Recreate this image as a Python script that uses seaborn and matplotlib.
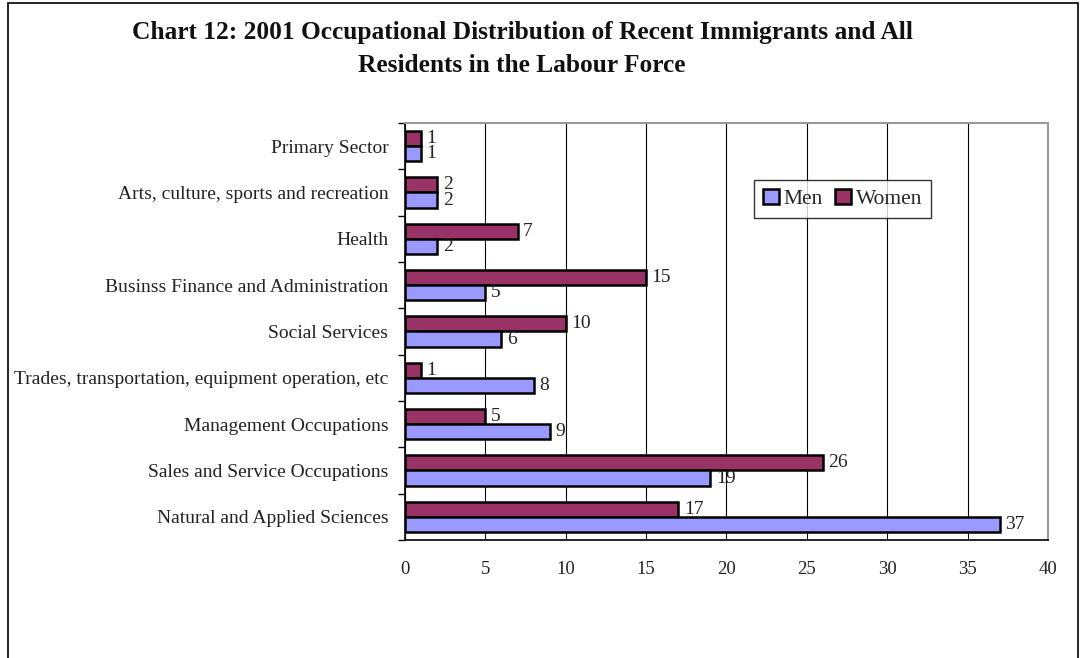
import matplotlib
matplotlib.use("Agg")
import matplotlib.pyplot as plt
import matplotlib.patches as mpatches
import numpy as np
import pandas as pd
import seaborn as sns

categories = [
    "Primary Sector",
    "Arts, culture, sports and recreation",
    "Health",
    "Businss Finance and Administration",
    "Social Services",
    "Trades, transportation, equipment operation, etc",
    "Management Occupations",
    "Sales and Service Occupations",
    "Natural and Applied Sciences",
]
men = [1, 2, 2, 5, 6, 8, 9, 19, 37]
women = [1, 2, 7, 15, 10, 1, 5, 26, 17]
x_ticks = [0, 5, 10, 15, 20, 25, 30, 35, 40]
title = ("Chart 12: 2001 Occupational Distribution of Recent Immigrants and All\n"
         "Residents in the Labour Force")

MEN_COLOR = "#9999FF"
WOMEN_COLOR = "#993366"

sns.set_theme(style="white")
plt.rcParams["font.family"] = ["Liberation Serif", "DejaVu Serif"]

df = pd.DataFrame({
    "category": categories * 2,
    "value": men + women,
    "sex": ["Men"] * len(men) + ["Women"] * len(women),
})

fig = plt.figure(figsize=(10.81, 6.58), dpi=100)
ax = fig.add_axes([405 / 1081, 1 - 540 / 658, (1048 - 405) / 1081, (540 - 123) / 658])

sns.barplot(data=df, x="value", y="category", hue="sex", order=categories,
            hue_order=["Women", "Men"], palette={"Men": MEN_COLOR, "Women": WOMEN_COLOR},
            orient="h", width=0.66, gap=0, edgecolor="black", linewidth=1.8,
            saturation=1, errorbar=None, ax=ax, legend=False)

for cont in ax.containers:
    ax.bar_label(cont, fmt="%g", padding=4, fontsize=14, color="#222222")

ax.set_xlim(0, 40)
ax.set_ylim(len(categories) - 0.5, -0.5)
ax.set_xticks(x_ticks)
ax.set_xticklabels([str(t) for t in x_ticks], fontsize=13.5, color="#222222")
ax.tick_params(axis="x", direction="out", length=5, width=1, color="black", pad=10)
ax.set_yticks(range(len(categories)))
ax.set_yticklabels(categories, fontsize=14, color="#222222")
ax.tick_params(axis="y", which="major", length=0, pad=12)
ax.set_yticks(np.arange(-0.5, len(categories)), minor=True)
ax.tick_params(axis="y", which="minor", direction="out", length=5, width=1, color="black", left=True)
ax.set_xlabel("")
ax.set_ylabel("")

ax.grid(axis="x", color="black", linewidth=0.8)
ax.set_axisbelow(True)
for side in ["left", "bottom"]:
    ax.spines[side].set_color("black")
    ax.spines[side].set_linewidth(1.2)
for side in ["top", "right"]:
    ax.spines[side].set_color("#999999")
    ax.spines[side].set_linewidth(1.5)

handles = [
    mpatches.Patch(facecolor=MEN_COLOR, edgecolor="black", linewidth=1.8, label="Men"),
    mpatches.Patch(facecolor=WOMEN_COLOR, edgecolor="black", linewidth=1.8, label="Women"),
]
leg = ax.legend(handles=handles, loc="upper left", bbox_to_anchor=((754 - 405) / 643, 1 - (180 - 123) / 417),
                ncol=2, fontsize=15.5, frameon=True, fancybox=False, edgecolor="black",
                handlelength=0.75, handleheight=0.75, handletextpad=0.2, columnspacing=0.6,
                borderpad=0.4, borderaxespad=0)
leg.get_frame().set_linewidth(1.0)

fig.text(0.483, 0.968, title, ha="center", va="top", fontsize=18.3, fontweight="bold",
         color="#111111", linespacing=1.55)

border = mpatches.Rectangle((8 / 1081, -0.05), (1078 - 8) / 1081, 1.05 - 3 / 658,
                            transform=fig.transFigure, fill=False, edgecolor="black",
                            linewidth=1.2, clip_on=False)
fig.patches.append(border)

fig.savefig("out.png", dpi=100)
